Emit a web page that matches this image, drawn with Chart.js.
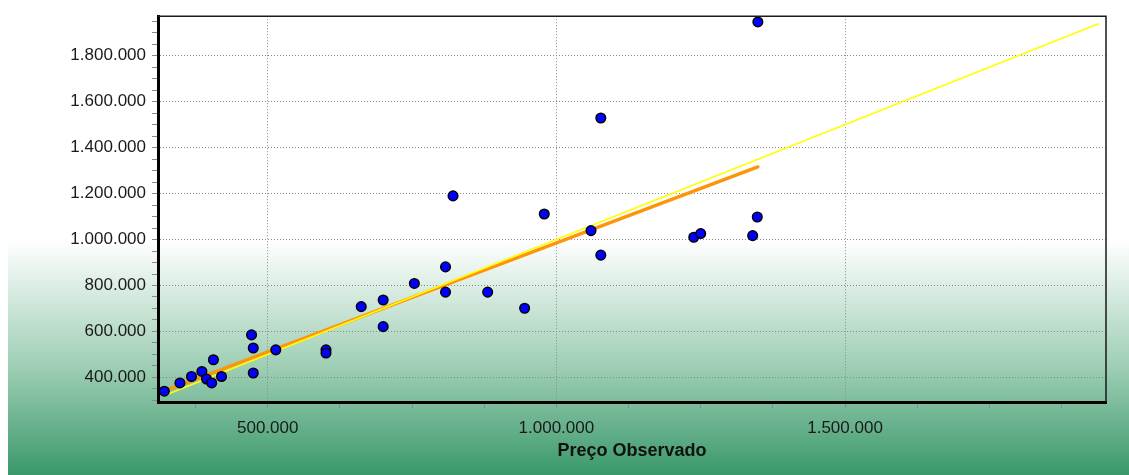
<!DOCTYPE html>
<html lang="pt-BR">
<head>
<meta charset="utf-8">
<title>Preço Observado x Preço Estimado</title>
<script src="https://cdn.jsdelivr.net/npm/chart.js@4/dist/chart.umd.min.js"></script>
<style>
  html, body { margin: 0; padding: 0; background: #fff; }
  #caixa { position: relative; width: 1129px; height: 475px; overflow: hidden; }
  #fundo {
    position: absolute; left: 8px; top: 240px; right: 0; bottom: 0;
    background: linear-gradient(to bottom, #ffffff 0%, #9ccdb3 55%, #3a986a 100%);
  }
  #grafico { position: absolute; left: 0; top: 0; }
</style>
</head>
<body>
<div id="caixa">
  <div id="fundo"></div>
  <canvas id="grafico" width="1129" height="475"></canvas>
</div>
<script>
/* dispersão: preço observado x preço estimado */

const COR_PONTO  = "#0000ff";
const COR_AJUSTE = "#ff9408";
const COR_IDENT  = "#ffff00";
const COR_GRADE  = "#8a8a8a";
const FONTE      = "'Liberation Sans', Arial, Helvetica, sans-serif";

// pontos
const precoObservado = [
  321000, 348000, 368000, 386000, 394000, 403000, 406000, 420000,
  472000, 475000, 475000, 514000, 601000, 601000,
  662000, 700000, 700000, 754000, 808000, 808000, 821000, 881000, 945000, 979000,
  1060000, 1077000, 1077000, 1238000, 1250000, 1340000, 1348000, 1349000
];
const precoEstimado = [
  340000, 376000, 404000, 426000, 393000, 376000, 477000, 404000,
  585000, 528000, 419000, 520000, 520000, 506000,
  708000, 737000, 621000, 809000, 881000, 771000, 1190000, 771000, 701000, 1111000,
  1039000, 1529000, 932000, 1010000, 1026000, 1017000, 1098000, 1947000
];

// reta de ajuste (laranja) e reta identidade (amarela)
const ajusteX = [321000, 1349000];
const ajusteY = [341000, 1316000];
const identX  = [320000, 1940000];
const identY  = [320000, 1940000];

// eixos: limites, marcas (a cada passo) e rótulos (a cada ROTULO)
const X_MIN = 310000, X_MAX = 1952000, X_PASSO = 125000, X_ROTULO = 500000;
const Y_MIN = 293000, Y_MAX = 1972000, Y_PASSO = 50000,  Y_ROTULO = 200000;

function marcas(min, max, passo) {
  const lista = [];
  for (let v = Math.ceil(min / passo) * passo; v <= max; v += passo) lista.push(v);
  return lista;
}
const marcasX = marcas(X_MIN, X_MAX, X_PASSO);
const marcasY = marcas(Y_MIN, Y_MAX, Y_PASSO);

function formatar(v) {
  return Math.round(v).toString().replace(/\B(?=(\d{3})+(?!\d))/g, ".");
}

function ehRotulo(v, rot) {
  return Math.abs(v / rot - Math.round(v / rot)) < 1e-6;
}

function pares(xs, ys) {
  return xs.map((x, i) => ({ x, y: ys[i] }));
}

const molduraPlugin = {
  id: "moldura",
  afterDraw(chart) {
    const { ctx, chartArea: a } = chart;
    ctx.save();
    ctx.strokeStyle = "#1a1a1a";
    ctx.lineWidth = 1.5;
    ctx.beginPath();
    ctx.moveTo(a.left, a.top);
    ctx.lineTo(a.right, a.top);
    ctx.lineTo(a.right, a.bottom);
    ctx.stroke();
    ctx.restore();
  }
};

const ctx = document.getElementById("grafico").getContext("2d");
new Chart(ctx, {
  type: "scatter",
  data: {
    datasets: [
      {
        label: "Preço Estimado",
        data: pares(precoObservado, precoEstimado),
        backgroundColor: COR_PONTO,
        borderColor: "#000",
        borderWidth: 1.5,
        pointRadius: 4.8,
        order: 0
      },
      {
        label: "Identidade",
        type: "line",
        data: pares(identX, identY),
        borderColor: COR_IDENT,
        borderWidth: 1.6,
        pointRadius: 0,
        fill: false,
        order: 1
      },
      {
        label: "Ajuste",
        type: "line",
        data: pares(ajusteX, ajusteY),
        borderColor: COR_AJUSTE,
        borderWidth: 3.4,
        borderCapStyle: "round",
        pointRadius: 0,
        fill: false,
        order: 2
      }
    ]
  },
  options: {
    responsive: false,
    animation: false,
    devicePixelRatio: 1,
    layout: { padding: { left: 0, top: 15, right: 23, bottom: 0 } },
    plugins: {
      legend: { display: false },
      tooltip: { enabled: false }
    },
    scales: {
      x: {
        type: "linear",
        min: X_MIN,
        max: X_MAX,
        afterBuildTicks: s => { s.ticks = marcasX.map(v => ({ value: v })); },
        afterFit: s => { s.height = 73; },
        border: { color: "#000", width: 3, dash: [1, 2] },
        grid: {
          color: c => (c.tick && ehRotulo(c.tick.value, X_ROTULO)) ? COR_GRADE : "rgba(0,0,0,0)",
          tickColor: COR_GRADE,
          tickLength: 6,
          lineWidth: 1
        },
        ticks: {
          autoSkip: false,
          maxRotation: 0,
          padding: 10,
          color: "#1a1a1a",
          font: { family: FONTE, size: 17 },
          callback: v => ehRotulo(v, X_ROTULO) ? formatar(v) : ""
        },
        title: {
          display: true,
          text: "Preço Observado",
          color: "#111",
          padding: { top: 2, bottom: 13 },
          font: { family: FONTE, size: 18, weight: "bold" }
        }
      },
      y: {
        type: "linear",
        min: Y_MIN,
        max: Y_MAX,
        afterBuildTicks: s => { s.ticks = marcasY.map(v => ({ value: v })); },
        afterFit: s => { s.width = 158; },
        border: { color: "#000", width: 3, dash: [1, 2] },
        grid: {
          color: c => (c.tick && ehRotulo(c.tick.value, Y_ROTULO)) ? COR_GRADE : "rgba(0,0,0,0)",
          tickColor: COR_GRADE,
          tickLength: 6,
          lineWidth: 1
        },
        ticks: {
          autoSkip: false,
          padding: 6,
          color: "#1a1a1a",
          font: { family: FONTE, size: 17 },
          callback: v => ehRotulo(v, Y_ROTULO) ? formatar(v) : ""
        }
      }
    }
  },
  plugins: [molduraPlugin]
});
</script>
</body>
</html>
